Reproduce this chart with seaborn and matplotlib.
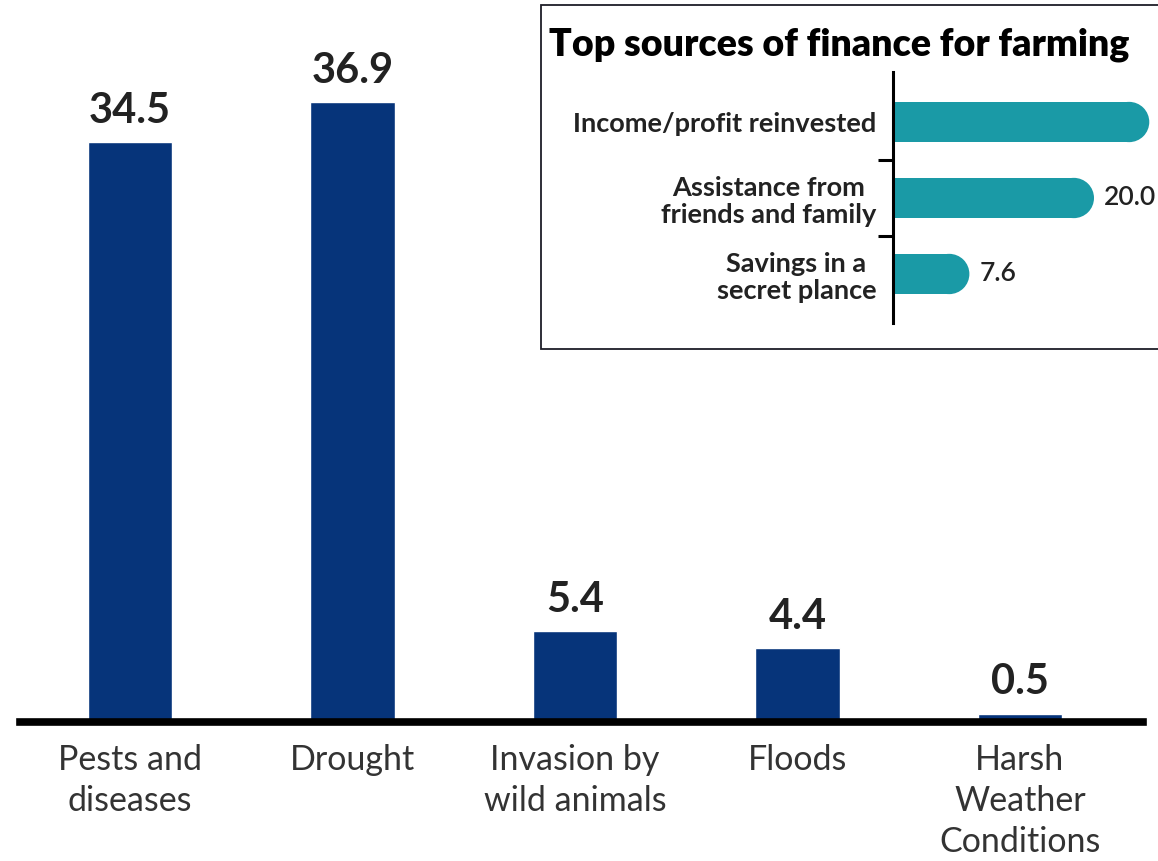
import matplotlib
matplotlib.use("Agg")
import matplotlib.pyplot as plt
from matplotlib.patches import Rectangle, Ellipse
from matplotlib.ticker import FixedLocator
import seaborn as sns
import pandas as pd

# Main chart: challenges faced by farmers (%)
challenges = ["Pests and\ndiseases", "Drought", "Invasion by\nwild animals",
              "Floods", "Harsh\nWeather\nConditions"]
challenge_pct = [34.5, 36.9, 5.4, 4.4, 0.5]

# Inset: top sources of finance for farming (%)
sources = ["Income/profit reinvested", "Assistance from\nfriends and family",
           "Savings in a\nsecret plance"]
source_pct = [25.5, 20.0, 7.6]
# the first bar runs to the panel edge, so its value is not printed
show_value = [False, True, True]

NAVY = "#06347a"
TEAL = "#1a9aa6"
TEXT = "#222222"

sns.set_theme(style="white")
plt.rcParams["font.family"] = ["Lato", "DejaVu Sans"]

W, H = 1158, 861
fig = plt.figure(figsize=(W / 100, H / 100), dpi=100)

# ---- main bar chart ----
ax = fig.add_axes([20 / W, (H - 722) / H, (1143 - 20) / W, 722 / H])
df = pd.DataFrame({"challenge": challenges, "pct": challenge_pct})
sns.barplot(data=df, x="challenge", y="pct", color=NAVY, width=0.38,
            saturation=1, ax=ax)
ax.set_xlim(-0.494, 4.553)
ax.set_ylim(0, 722 / 16.8)
for s in ["top", "left", "right"]:
    ax.spines[s].set_visible(False)
ax.spines["bottom"].set_linewidth(5.5)
ax.spines["bottom"].set_color("black")
ax.set_yticks([])
ax.set_xlabel("")
ax.set_ylabel("")
ax.tick_params(axis="x", length=0, pad=16, labelsize=24.5, labelcolor="#333333")
for lab in ax.get_xticklabels():
    lab.set_linespacing(1.34)
for i, v in enumerate(challenge_pct):
    ax.annotate(f"{v:.1f}", xy=(i, v), xytext=(0, 14), textcoords="offset points",
                ha="center", va="baseline", fontsize=30, fontweight="bold",
                color=TEXT)

# ---- inset panel ----
frame = Rectangle((541 / W, (H - 349) / H), (1180 - 541) / W, 344 / H,
                  transform=fig.transFigure, facecolor="white",
                  edgecolor="#1e1e28", linewidth=1.3, zorder=1)
fig.add_artist(frame)
fig.text(549 / W, (H - 45) / H, "Top sources of finance for farming",
         fontsize=27, fontweight="heavy", color="black", ha="left",
         va="center", zorder=3)

px_per_unit = 10.05
axin = fig.add_axes([893 / W, (H - 323) / H, (W - 893) / W, (323 - 72) / H],
                    zorder=2)
axin.set_facecolor("none")
dfi = pd.DataFrame({"source": sources, "pct": source_pct})
sns.barplot(data=dfi, y="source", x="pct", color=TEAL, width=0.53,
            saturation=1, orient="h", ax=axin)
axin.set_xlim(0, (W - 893) / px_per_unit)
axin.set_ylim(2.645, -0.658)

# rounded right ends on the horizontal bars
for p in list(axin.patches):
    x0, y0, w, h = p.get_x(), p.get_y(), p.get_width(), p.get_height()
    h_px = h * 76
    rx = (h_px / 2) / px_per_unit
    p.set_visible(False)
    axin.add_patch(Rectangle((x0, y0), w - rx, h, facecolor=TEAL,
                             edgecolor="none", linewidth=0))
    axin.add_patch(Ellipse((x0 + w - rx, y0 + h / 2), 2 * rx, h,
                           facecolor=TEAL, edgecolor="none", linewidth=0))

for i, (v, show) in enumerate(zip(source_pct, show_value)):
    if show:
        axin.text(v + 1.0, i, f"{v:.1f}", ha="left", va="center", fontsize=19,
                  fontweight="semibold", color=TEXT, clip_on=False)

for s in ["top", "right", "bottom"]:
    axin.spines[s].set_visible(False)
axin.spines["left"].set_linewidth(2.2)
axin.spines["left"].set_color("black")
axin.set_xticks([])
axin.set_xlabel("")
axin.set_ylabel("")
axin.yaxis.set_minor_locator(FixedLocator([0.5, 1.5]))
axin.tick_params(axis="y", which="major", length=0, pad=12, labelsize=19.5,
                 labelcolor=TEXT)
axin.tick_params(axis="y", which="minor", left=True, length=11, width=2.2,
                 color="black", direction="out")
for lab in axin.get_yticklabels():
    lab.set_multialignment("center")
    lab.set_fontweight("bold")
    lab.set_linespacing(1.15)

fig.savefig("out.png", dpi=100)
